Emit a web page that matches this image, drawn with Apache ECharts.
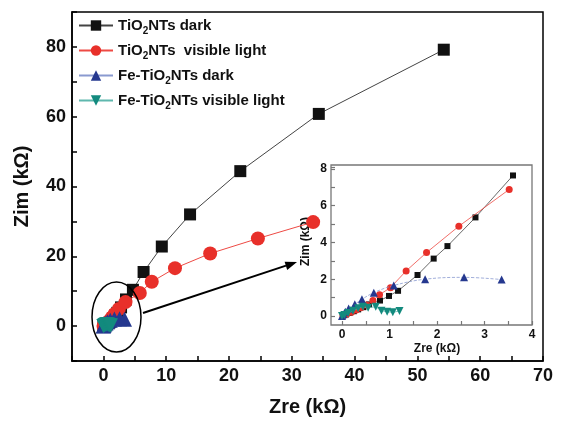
<!DOCTYPE html>
<html>
<head>
<meta charset="utf-8">
<script src="https://cdn.jsdelivr.net/npm/echarts@6/dist/echarts.min.js"></script>
<style>
  html, body { margin: 0; padding: 0; background: #fff; }
  #main { width: 563px; height: 422px; }
</style>
</head>
<body>
<div id="main"></div>
<script>
// Nyquist data, [Zre, Zim] in kOhm
var tiDark = [[0.02,0.02],[0.08,0.08],[0.16,0.17],[0.25,0.26],[0.34,0.36],[0.45,0.48],[0.57,0.63],
  [0.8,0.84],[0.99,1.09],[1.18,1.37],[1.59,2.23],[1.93,3.12],[2.22,3.8],[2.81,5.36],[3.6,7.64],
  [4.7,10.4],[6.4,15.5],[9.3,22.8],[13.8,32.0],[21.8,44.4],[34.3,60.8],[54.2,79.2]];
var tiLight = [[0.02,0.02],[0.1,0.1],[0.2,0.21],[0.3,0.33],[0.4,0.45],[0.52,0.6],[0.65,0.84],
  [0.79,1.16],[1.02,1.54],[1.35,2.45],[1.78,3.45],[2.46,4.88],[3.52,6.88],
  [5.8,9.5],[7.7,12.7],[11.4,16.6],[17.0,20.8],[24.6,25.1],[33.4,29.8]];
var feDark = [[0.0,0.0],[0.03,0.1],[0.07,0.23],[0.14,0.41],[0.27,0.64],[0.42,0.91],[0.67,1.27],
  [1.09,1.66],[1.75,2.0],[2.57,2.1],[3.36,1.98]];
var feLight = [[0.0,0.0],[0.05,0.06],[0.13,0.16],[0.23,0.28],[0.34,0.42],[0.44,0.5],[0.55,0.45],
  [0.71,0.5],[0.83,0.29],[0.95,0.23],[1.07,0.2],[1.21,0.27]];
var seriesNames = ['TiO2NTs dark', 'TiO2NTs  visible light', 'Fe-TiO2NTs dark', 'Fe-TiO2NTs visible light'];
var mainTicksX = [0, 10, 20, 30, 40, 50, 60, 70];
var mainTicksY = [0, 20, 40, 60, 80];
var insetTicksX = [0, 1, 2, 3, 4];
var insetTicksY = [0, 2, 4, 6, 8];

var FONT = '"Liberation Sans", Arial, sans-serif';
var looks = [
  { data: tiDark, symbol: 'rect', rot: 0, color: '#111', line: '#444', size: 12, small: 6 },
  { data: tiLight, symbol: 'circle', rot: 0, color: '#e8302a', line: '#ee4a44', size: 14, small: 7 },
  { data: feDark, symbol: 'triangle', rot: 0, color: '#25388f', line: '#8a9ad0', size: 15, small: 8 },
  { data: feLight, symbol: 'triangle', rot: 180, color: '#138a7e', line: '#5fb8ae', size: 14, small: 8 }
];

var series = [];
looks.forEach(function (s, i) {
  series.push({
    name: seriesNames[i], type: 'line', xAxisIndex: 0, yAxisIndex: 0,
    data: s.data, symbol: s.symbol, symbolRotate: s.rot, symbolSize: s.size,
    itemStyle: { color: s.color }, lineStyle: { color: s.line, width: 1 },
    z: 3 + i
  });
});
looks.forEach(function (s, i) {
  series.push({
    name: seriesNames[i], type: 'line', xAxisIndex: 1, yAxisIndex: 1,
    data: s.data.filter(function (p) { return p[0] <= 4; }),
    symbol: s.symbol, symbolRotate: s.rot, symbolSize: s.small, clip: false,
    smooth: i === 2 ? 0.4 : false,
    itemStyle: { color: s.color }, lineStyle: { color: s.line, width: 0.8, type: i === 2 ? 'dashed' : 'solid' },
    z: 10 + i
  });
});

function only(list) {
  return function (v) { return list.indexOf(Math.round(v * 100) / 100) >= 0 ? String(Math.round(v)) : ''; };
}

var chart = echarts.init(document.getElementById('main'));
chart.setOption({
  backgroundColor: '#fff',
  animation: false,
  textStyle: { fontFamily: FONT },
  legend: {
    orient: 'vertical', left: 73, top: 13, itemWidth: 34, itemHeight: 13, itemGap: 7,
    data: seriesNames,
    formatter: function (n) { return n.replace('O2', 'O{s|2}'); },
    textStyle: {
      fontFamily: FONT, fontSize: 15, fontWeight: 'bold', color: '#111',
      rich: { s: { fontFamily: FONT, fontSize: 10, fontWeight: 'bold', color: '#111', padding: [11, 0, 0, 0] } }
    }
  },
  grid: [
    { left: 72, right: 20, top: 12, bottom: 60, show: true, borderColor: '#000', borderWidth: 1.5 },
    { left: 342, right: 31, top: 167, bottom: 106 }
  ],
  xAxis: [
    {
      gridIndex: 0, type: 'value', min: -5, max: 70, interval: 5,
      name: 'Zre (kΩ)', nameLocation: 'middle', nameGap: 36,
      nameTextStyle: { fontFamily: FONT, fontSize: 20, fontWeight: 'bold', color: '#111' },
      axisLine: { onZero: false, lineStyle: { color: '#000', width: 1.5 } },
      axisTick: { inside: true, length: 5, lineStyle: { color: '#000', width: 1.5 } },
      axisLabel: { fontFamily: FONT, fontSize: 18, fontWeight: 'bold', color: '#111', margin: 6, formatter: only(mainTicksX) },
      splitLine: { show: false }
    },
    {
      gridIndex: 1, type: 'value', min: 0, max: 4, interval: 0.5, offset: 9,
      name: 'Zre (kΩ)', nameLocation: 'middle', nameGap: 18,
      nameTextStyle: { fontFamily: FONT, fontSize: 12, fontWeight: 'bold', color: '#111' },
      axisLine: { show: false, onZero: false },
      axisTick: { inside: true, length: 4, lineStyle: { color: '#777', width: 1.2 } },
      axisLabel: { fontFamily: FONT, fontSize: 12, fontWeight: 'bold', color: '#111', margin: 4, formatter: only(insetTicksX) },
      splitLine: { show: false }
    }
  ],
  yAxis: [
    {
      gridIndex: 0, type: 'value', min: -10, max: 90, interval: 10,
      name: 'Zim (kΩ)', nameLocation: 'middle', nameGap: 40,
      nameTextStyle: { fontFamily: FONT, fontSize: 20, fontWeight: 'bold', color: '#111' },
      axisLine: { onZero: false, lineStyle: { color: '#000', width: 1.5 } },
      axisTick: { inside: true, length: 5, lineStyle: { color: '#000', width: 1.5 } },
      axisLabel: { fontFamily: FONT, fontSize: 18, fontWeight: 'bold', color: '#111', margin: 6, formatter: only(mainTicksY) },
      splitLine: { show: false }
    },
    {
      gridIndex: 1, type: 'value', min: 0, max: 8.1, interval: 1, offset: 11,
      name: 'Zim (kΩ)', nameLocation: 'middle', nameGap: 19,
      nameTextStyle: { fontFamily: FONT, fontSize: 12, fontWeight: 'bold', color: '#111' },
      axisLine: { show: false, onZero: false },
      axisTick: { inside: true, length: 4, lineStyle: { color: '#777', width: 1.2 } },
      axisLabel: { fontFamily: FONT, fontSize: 12, fontWeight: 'bold', color: '#111', margin: 4, formatter: only(insetTicksY) },
      splitLine: { show: false }
    }
  ],
  graphic: [
    { type: 'rect', shape: { x: 331, y: 165, width: 201, height: 160 }, style: { fill: 'none', stroke: '#777', lineWidth: 1.3 }, z: 20 },
    { type: 'ellipse', shape: { cx: 116.5, cy: 317, rx: 24.5, ry: 35 }, style: { fill: 'none', stroke: '#000', lineWidth: 1.5 }, z: 20 },
    { type: 'line', shape: { x1: 143, y1: 313, x2: 286, y2: 265.6 }, style: { stroke: '#000', lineWidth: 2 }, z: 20 },
    { type: 'polygon', shape: { points: [[297, 262], [287.2, 270], [284.6, 261.8]] }, style: { fill: '#000' }, z: 20 }
  ],
  series: series
});
</script>
</body>
</html>
